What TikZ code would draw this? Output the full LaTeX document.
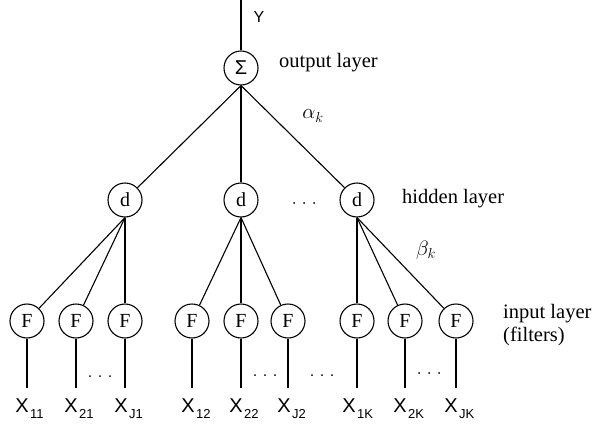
\documentclass[tikz,border=0pt]{standalone}
\usepackage{fontspec}
\newfontfamily\labelsans{Liberation Sans}
\newfontfamily\labelserif{Liberation Serif}
\begin{document}
\begin{tikzpicture}[x=1pt,y=-1pt,
  unit/.style={circle, draw, line width=1.1pt, minimum size=34pt, inner sep=0pt,
    font=\labelserif\fontsize{20}{22}\selectfont},
  wire/.style={line width=1.1pt},
  layername/.style={anchor=base west, inner sep=0pt, font=\labelserif\fontsize{20.5}{23}\selectfont},
  xlabel/.style={anchor=base, inner sep=0pt, font=\labelsans\fontsize{20}{22}\selectfont},
  weight/.style={inner sep=0pt, font=\fontsize{20}{22}\selectfont},
]
\useasboundingbox (0,0) rectangle (597,423);

% subscript set to the right of an input symbol
\newcommand{\insub}[1]{\rlap{\kern1.5pt\raisebox{-6pt}{\fontsize{13}{14}\selectfont #1}}}
% three small dots
\newcommand{\dotrow}[2]{\foreach \dx in {-10,0,10} \fill (#1+\dx,#2) circle (1pt);}

% output layer
\node[unit, font=\labelsans\fontsize{20}{22}\selectfont] (sum) at (241,68) {Σ};
\coordinate (ytop) at (241,0);
\draw[wire] (ytop) -- (sum.north);
\node[inner sep=0pt, font=\labelsans\fontsize{16}{18}\selectfont] (ylab) at (259,17) {Y};
\node[layername] (outname) at (279,67) {output layer};

% hidden layer
\node[unit] (d1) at (125,200) {d};
\node[unit] (d2) at (241,200) {d};
\node[unit] (d3) at (357,200) {d};
\node[layername] (hidname) at (402,203) {hidden layer};
\dotrow{304}{203}

\draw[wire] (sum.south) -- (d1);
\draw[wire] (sum.south) -- (d2.north);
\draw[wire] (sum.south) -- (d3);
\node[weight] (alpha) at (313,116) {$\alpha_k$};

% input layer (filters)
\foreach \name/\x in {f11/27, f21/76, f31/125, f12/192, f22/241, f32/288,
                      f13/357, f23/405, f33/456} {
  \node[unit] (\name) at (\x,321) {F};
  \coordinate (\name end) at (\x,388);
  \draw[wire] (\name.south) -- (\name end);
}
\node[layername] (inname) at (503,318) {input layer};
\node[layername] (filtname) at (503,341) {(filters)};

\draw[wire] (d1.south) -- (f11);
\draw[wire] (d1.south) -- (f21);
\draw[wire] (d1.south) -- (f31.north);
\draw[wire] (d2.south) -- (f12);
\draw[wire] (d2.south) -- (f22.north);
\draw[wire] (d2.south) -- (f32);
\draw[wire] (d3.south) -- (f13.north);
\draw[wire] (d3.south) -- (f23);
\draw[wire] (d3.south) -- (f33);
\node[weight] (beta) at (426,250) {$\beta_k$};

% input signals
\node[xlabel] (x11) at (22,412) {X\insub{11}};
\node[xlabel] (x21) at (71,412) {X\insub{21}};
\node[xlabel] (xj1) at (121,412) {X\insub{J1}};
\node[xlabel] (x12) at (188,412) {X\insub{12}};
\node[xlabel] (x22) at (236,412) {X\insub{22}};
\node[xlabel] (xj2) at (284,412) {X\insub{J2}};
\node[xlabel] (x1k) at (349,412) {X\insub{1K}};
\node[xlabel] (x2k) at (400,412) {X\insub{2K}};
\node[xlabel] (xjk) at (451,412) {X\insub{JK}};

\dotrow{100}{376}
\dotrow{265}{375}
\dotrow{322}{375}
\dotrow{429}{373}
\end{tikzpicture}
\end{document}
